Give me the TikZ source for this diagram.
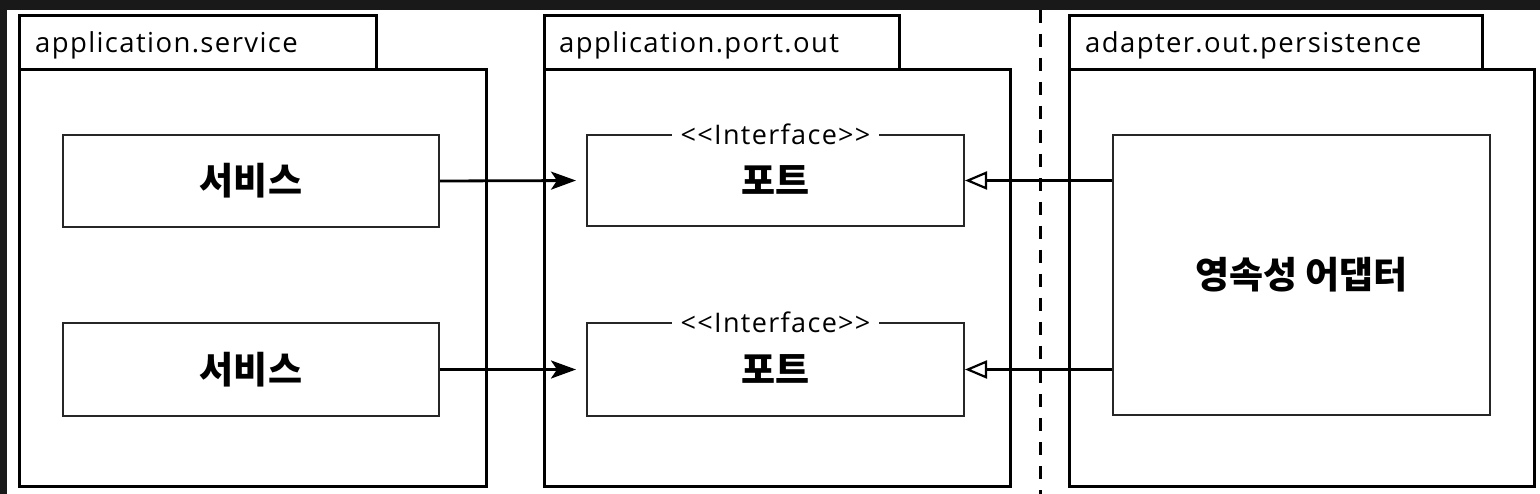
\documentclass[tikz,border=0pt]{standalone}
\usepackage{fontspec}
\setmainfont{Open Sans}[LetterSpace=5]
\newfontfamily\krfont{Noto Sans CJK KR}
\usetikzlibrary{arrows.meta}
\tikzset{
  pkg/.style={draw=black, line width=3.3pt, fill=white, inner sep=0pt, anchor=north west},
  pkglabel/.style={anchor=base west, inner sep=0pt, font=\fontsize{27.5}{31}\selectfont},
  cbox/.style={draw=black!85, line width=2pt, fill=white, inner sep=0pt,
    font=\krfont\bfseries\fontsize{37}{41}\selectfont},
  iface/.style={fill=white, inner xsep=9pt, inner ysep=1pt, font=\fontsize{27}{30}\selectfont},
  conn/.style={line width=2.8pt},
  usesarrow/.style={conn, -{Stealth[length=25pt, width=18pt, inset=6pt]}, shorten >=10pt},
  implarrow/.style={conn, -{Triangle[open, length=22pt, width=18pt, line width=2.2pt]}},
  divider/.style={line width=3pt, dash pattern=on 13pt off 11pt}
}
\begin{document}
\begin{tikzpicture}[x=1pt, y=-1pt]
  \useasboundingbox (0,0) rectangle (1540,494);
  \fill[white] (0,0) rectangle (1540,494);
  \fill[black!90] (0,0) rectangle (1540,10);
  \fill[black!90] (0,0) rectangle (7,494);

  % divider
  \coordinate (dtop) at (1040,10);
  \coordinate (dbot) at (1040,494);
  \draw[divider] (dtop) -- (dbot);

  % package application.service
  \node[pkg, minimum width=357pt, minimum height=54pt] (t1) at (18,14) {};
  \node[pkg, minimum width=467pt, minimum height=417pt] (b1) at (18,68) {};
  \node[pkglabel] (l1) at (35,53) {application.service};

  % package application.port.out
  \node[pkg, minimum width=355pt, minimum height=54pt] (t2) at (543,14) {};
  \node[pkg, minimum width=466pt, minimum height=417pt] (b2) at (543,68) {};
  \node[pkglabel] (l2) at (559,53) {application.port.out};

  % package adapter.out.persistence
  \node[pkg, minimum width=413pt, minimum height=54pt] (t3) at (1068,14) {};
  \node[pkg, minimum width=465pt, minimum height=417pt] (b3) at (1068,68) {};
  \node[pkglabel] (l3) at (1085,53) {adapter.out.persistence};

  % inner boxes
  \node[cbox, minimum width=376pt, minimum height=92pt] (s1) at (251,181) {서비스};
  \node[cbox, minimum width=376pt, minimum height=92pt] (s2) at (251,369.5) {서비스};
  \node[cbox, minimum width=377pt, minimum height=91pt] (p1) at (775.5,180.5) {포트};
  \node[cbox, minimum width=377pt, minimum height=92pt] (p2) at (775.5,369.5) {포트};
  \node[cbox, minimum width=377pt, minimum height=280pt] (a) at (1301.5,275) {영속성 어댑터};

  \node[iface] (i1) at (p1.north) {<\kern1.3pt<Interface>\kern1.3pt>};
  \node[iface] (i2) at (p2.north) {<\kern1.3pt<Interface>\kern1.3pt>};

  % connectors
  \draw[usesarrow] (s1.east) -- (p1.west);
  \draw[usesarrow] (s2.east) -- (p2.west);
  \draw[implarrow] (p1.east -| a.west) -- (p1.east);
  \draw[implarrow] (p2.east -| a.west) -- (p2.east);
\end{tikzpicture}
\end{document}
